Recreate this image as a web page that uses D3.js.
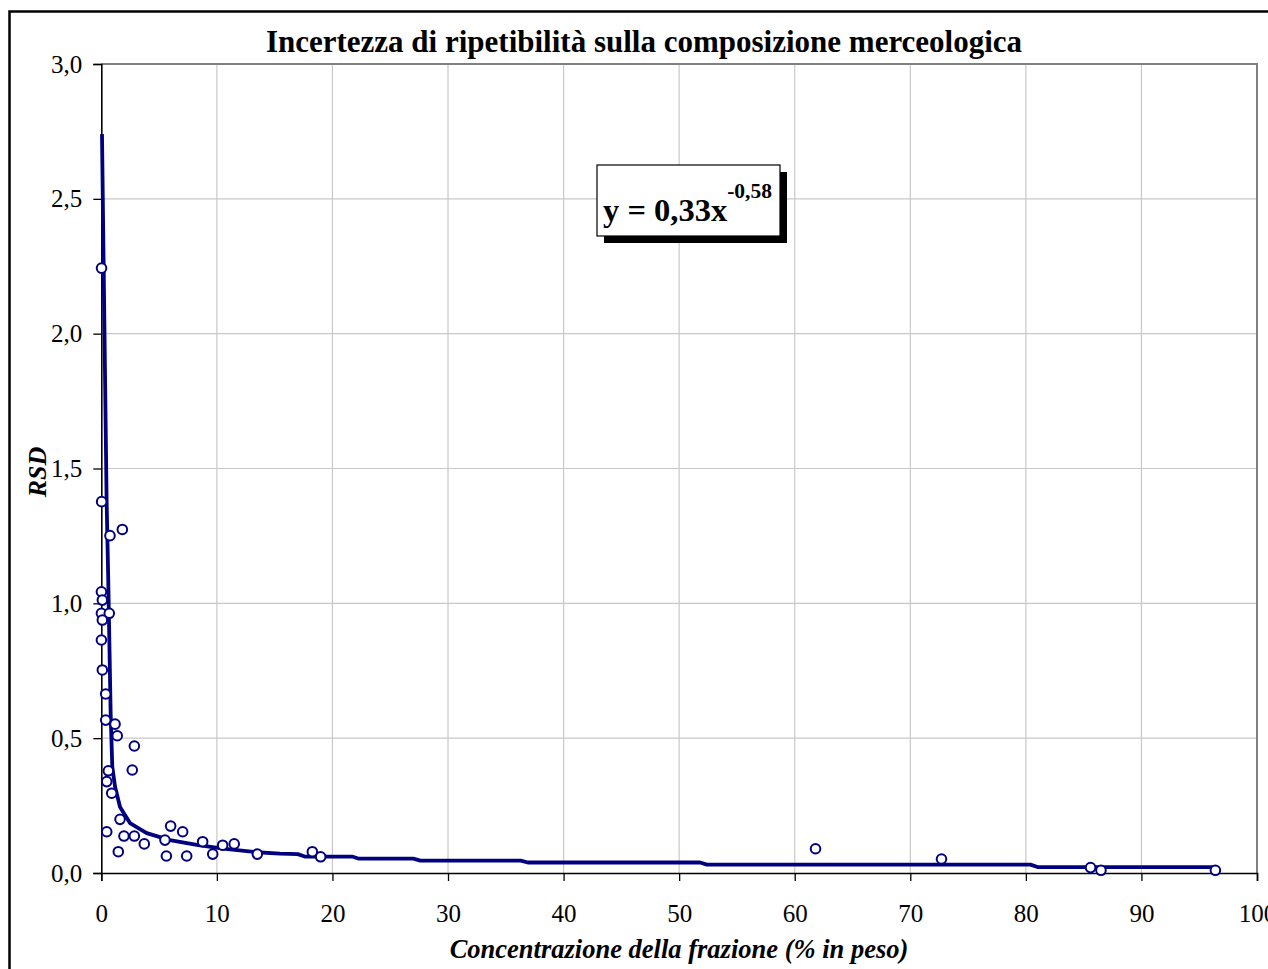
<!DOCTYPE html>
<html>
<head>
<meta charset="utf-8">
<script src="https://cdn.jsdelivr.net/npm/d3@7"></script>
<style>
	body { margin: 0; background: #fff; }
	svg { display: block; font-family: "Liberation Serif", "Times New Roman", serif; }
</style>
</head>
<body>
<svg id="chart"></svg>
<script>
const chartTitle = 'Incertezza di ripetibilità sulla composizione merceologica';
const xLabel = 'Concentrazione della frazione (% in peso)';
const yLabel = 'RSD';
const equationMain = 'y = 0,33x';
const equationExp = '-0,58';

const xTicks = [0, 10, 20, 30, 40, 50, 60, 70, 80, 90, 100];
const yTicks = [0, 0.5, 1, 1.5, 2, 2.5, 3];

// measured points (concentration %, RSD)
const pointX = [0.02, 0.03, 1.82, 0.75, 0.01, 0.09, 0.01, 0.69, 0.09, 0.01, 0.09, 0.38, 0.38, 1.19, 1.38,
	2.86, 2.68, 0.61, 0.47, 0.90, 1.62, 0.47, 1.96, 2.86, 3.72, 1.47, 5.51, 6.00, 7.04, 5.63, 7.39,
	8.77, 9.64, 10.5, 11.5, 13.5, 18.26, 18.98, 61.8, 72.7, 85.6, 86.5, 96.4];
const pointY = [2.243, 1.377, 1.274, 1.251, 1.043, 1.012, 0.963, 0.963, 0.938, 0.864, 0.753, 0.664, 0.567, 0.552, 0.509,
	0.471, 0.382, 0.379, 0.339, 0.296, 0.199, 0.153, 0.137, 0.137, 0.108, 0.079, 0.122, 0.174, 0.153, 0.063, 0.063,
	0.116, 0.070, 0.103, 0.108, 0.070, 0.079, 0.060, 0.090, 0.052, 0.020, 0.010, 0.010];

// power trend line as drawn (stepped, values rounded)
const trendX = [0.06, 0.46, 0.60, 0.81, 0.95, 1.19, 1.62, 2.48, 3.93, 5.94, 8.26, 10.53, 13.45, 15.46, 17.0, 17.6,
	21.7, 22.3, 27.0, 27.6, 36.3, 36.9, 51.8, 52.4, 80.4, 81.0, 96.4];
const trendY = [2.74, 1.38, 1.09, 0.59, 0.394, 0.32, 0.245, 0.185, 0.148, 0.122, 0.104, 0.090, 0.077, 0.072, 0.070, 0.061,
	0.061, 0.053, 0.053, 0.046, 0.046, 0.039, 0.039, 0.031, 0.031, 0.022, 0.022];

const width = 1268;
const height = 969;
const plot = { left: 101.3, right: 1257, top: 64, bottom: 873 };
const navy = '#000080';

const itLocale = d3.formatLocale({ decimal: ',', thousands: '.', grouping: [3], currency: ['', ' €'] });
const fmtY = itLocale.format('.1f');

function drawFrame(svg) {
	svg.append('rect')
		.attr('x', 9.5)
		.attr('y', 11.5)
		.attr('width', width + 20)
		.attr('height', height + 20)
		.attr('fill', '#fff')
		.attr('stroke', '#000')
		.attr('stroke-width', 2.5);
}

function drawGrid(svg, x, y) {
	svg.append('g')
		.selectAll('line')
		.data(xTicks.slice(1, -1))
		.enter()
		.append('line')
		.attr('x1', d => x(d))
		.attr('x2', d => x(d))
		.attr('y1', plot.top)
		.attr('y2', plot.bottom)
		.attr('stroke', '#c8c8c8')
		.attr('stroke-width', 1.2);

	svg.append('g')
		.selectAll('line')
		.data(yTicks.slice(1, -1))
		.enter()
		.append('line')
		.attr('x1', plot.left)
		.attr('x2', plot.right)
		.attr('y1', d => y(d))
		.attr('y2', d => y(d))
		.attr('stroke', '#c8c8c8')
		.attr('stroke-width', 1.2);

	// top and right border of the plot area
	svg.append('path')
		.attr('d', `M${plot.left},${plot.top}H${plot.right}V${plot.bottom}`)
		.attr('fill', 'none')
		.attr('stroke', '#808080')
		.attr('stroke-width', 2);
}

function drawAxes(svg, x, y) {
	const xAxis = svg.append('g')
		.attr('transform', `translate(0,${plot.bottom})`)
		.call(d3.axisBottom(x).tickValues(xTicks).tickSize(8).tickPadding(23).tickFormat(d3.format('d')));
	const yAxis = svg.append('g')
		.attr('transform', `translate(${plot.left},0)`)
		.call(d3.axisLeft(y).tickValues(yTicks).tickSize(8).tickPadding(11).tickFormat(fmtY));

	[xAxis, yAxis].forEach(ax => {
		ax.select('.domain').attr('stroke', '#000').attr('stroke-width', 1.6);
		ax.selectAll('.tick line').attr('stroke', '#000').attr('stroke-width', 1.3);
		ax.selectAll('.tick text')
			.attr('font-family', '"Liberation Serif", "Times New Roman", serif')
			.attr('font-size', 25)
			.attr('fill', '#000');
	});
	xAxis.selectAll('.tick text').attr('dy', '0.71em');
}

function drawSeries(svg, x, y) {
	const trend = d3.range(trendX.length).map(i => [trendX[i], trendY[i]]);
	const line = d3.line()
		.x(d => x(d[0]))
		.y(d => y(d[1]));

	svg.append('path')
		.datum(trend)
		.attr('d', line)
		.attr('fill', 'none')
		.attr('stroke', navy)
		.attr('stroke-width', 3.8)
		.attr('stroke-linejoin', 'round');

	const points = d3.range(pointX.length).map(i => [pointX[i], pointY[i]]);
	svg.append('g')
		.selectAll('circle')
		.data(points)
		.enter()
		.append('circle')
		.attr('cx', d => x(d[0]))
		.attr('cy', d => y(d[1]))
		.attr('r', 4.8)
		.attr('fill', '#fff')
		.attr('stroke', navy)
		.attr('stroke-width', 2);
}

function drawTexts(svg) {
	svg.append('text')
		.attr('x', 644)
		.attr('y', 52)
		.attr('text-anchor', 'middle')
		.attr('font-size', 31)
		.attr('font-weight', 'bold')
		.text(chartTitle);

	svg.append('text')
		.attr('transform', 'translate(46,472) rotate(-90)')
		.attr('text-anchor', 'middle')
		.attr('font-size', 26)
		.attr('font-weight', 'bold')
		.attr('font-style', 'italic')
		.text(yLabel);

	svg.append('text')
		.attr('x', 679)
		.attr('y', 958)
		.attr('text-anchor', 'middle')
		.attr('font-size', 26.5)
		.attr('font-weight', 'bold')
		.attr('font-style', 'italic')
		.text(xLabel);
}

function drawEquation(svg) {
	const box = { x: 597, y: 165, w: 183, h: 71 };
	svg.append('rect')
		.attr('x', box.x + 7)
		.attr('y', box.y + 7)
		.attr('width', box.w)
		.attr('height', box.h)
		.attr('fill', '#000');
	svg.append('rect')
		.attr('x', box.x)
		.attr('y', box.y)
		.attr('width', box.w)
		.attr('height', box.h)
		.attr('fill', '#fff')
		.attr('stroke', '#000')
		.attr('stroke-width', 1.2);

	const eq = svg.append('text')
		.attr('x', 603)
		.attr('y', 221)
		.attr('font-weight', 'bold')
		.attr('font-size', 32.5);
	eq.append('tspan').text(equationMain);
	eq.append('tspan')
		.attr('dy', -23)
		.attr('font-size', 21.5)
		.text(equationExp);
}

function render() {
	const svg = d3.select('#chart')
		.attr('width', width)
		.attr('height', height);

	const x = d3.scaleLinear().domain([0, 100]).range([plot.left, plot.right]);
	const y = d3.scaleLinear().domain([0, 3]).range([plot.bottom, plot.top]);

	drawFrame(svg);
	drawGrid(svg, x, y);
	drawAxes(svg, x, y);
	drawSeries(svg, x, y);
	drawTexts(svg);
	drawEquation(svg);
}

document.addEventListener('DOMContentLoaded', () => {
	render();
});
</script>
</body>
</html>
